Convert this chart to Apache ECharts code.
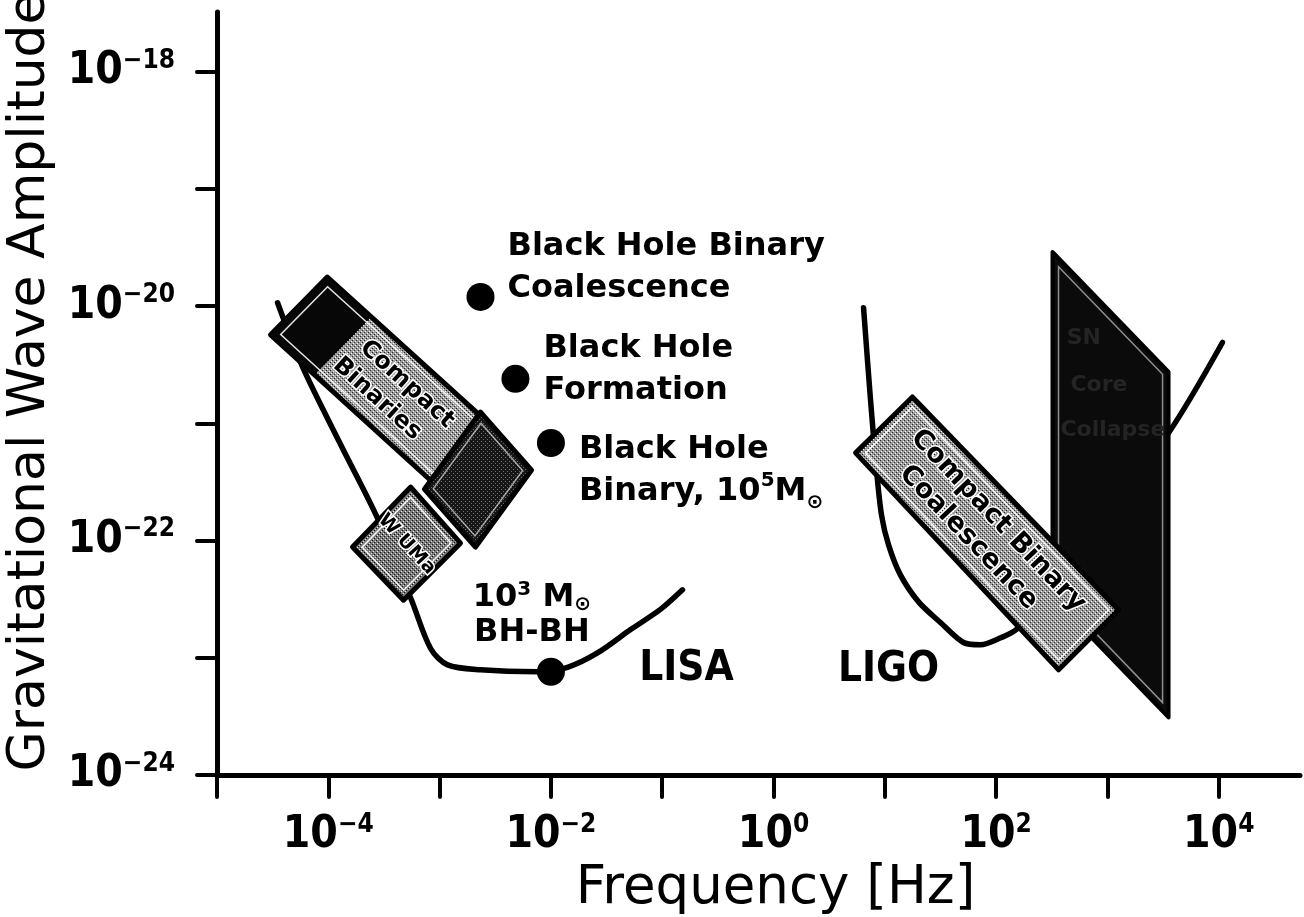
<!DOCTYPE html>
<html>
<head>
<meta charset="utf-8">
<script src="https://cdn.jsdelivr.net/npm/echarts@6/dist/echarts.min.js"></script>
<style>
html,body{margin:0;padding:0;background:#fff;}
#chart{width:1304px;height:917px;}
</style>
</head>
<body>
<div id="chart"></div>
<script>
// ---------------- data ----------------
const freqTicks = [1e-5, 1e-4, 1e-3, 1e-2, 1e-1, 1, 1e1, 1e2, 1e3, 1e4];
const freqTickLabels = [1e-4, 1e-2, 1, 1e2, 1e4];
const freqTickLabelExp = ['\u22124', '\u22122', '0', '2', '4'];
const ampTicks = [1e-24, 1e-23, 1e-22, 1e-21, 1e-20, 1e-19, 1e-18];
const ampTickLabels = [1e-24, 1e-22, 1e-20, 1e-18];
const ampTickLabelExp = ['\u221224', '\u221222', '\u221220', '\u221218'];

// LISA sensitivity curve
const lisaFreq = [3.5e-5, 5.9e-5, 1.29e-4, 2.77e-4, 5.6e-4, 8.3e-4, 1.18e-3, 2.33e-3, 7.6e-3, 1.41e-2, 2.62e-2, 5.2e-2, 9.7e-2, 0.152];
const lisaAmp  = [1.07e-20, 3.0e-21, 6.6e-22, 1.55e-22, 3.1e-23, 1.2e-23, 8.7e-24, 7.9e-24, 7.6e-24, 8.3e-24, 1.1e-23, 1.74e-23, 2.6e-23, 3.8e-23];

// LIGO sensitivity curve
const ligoFreq = [6.44, 7.44, 8.42, 9.34, 10.8, 13.8, 20.1, 31.6, 50.9, 72.4, 110, 156, 379, 1067, 3540, 10800];
const ligoAmp  = [9.7e-21, 1.58e-21, 4.0e-22, 1.65e-22, 9.2e-23, 5.1e-23, 3.0e-23, 2.0e-23, 1.35e-23, 1.29e-23, 1.48e-23, 1.78e-23, 5.1e-23, 2.0e-22, 8.3e-22, 4.9e-21];

// curve labels
const curveNames = ['LISA', 'LIGO'];

// point sources
const sourceNames = ['Black Hole Binary Coalescence', 'Black Hole Formation', 'Black Hole Binary, 10^5 Msun', '10^3 Msun BH-BH'];
const sourceFreq = [2.33e-3, 4.8e-3, 1.0e-2, 1.0e-2];
const sourceAmp  = [1.2e-20, 2.4e-21, 6.8e-22, 7.6e-24];
const sourceLabels = [
  '{t|Black Hole Binary}\n{t|Coalescence}',
  '{t|Black Hole}\n{t|Formation}',
  '{t|Black Hole}\n{t|Binary, 10}{s|5}{t|M}{o|\u2299}',
  '{u|10}{s|3}{u| M}{o|\u2299}\n{u|BH-BH}'
];

// source regions (corners: start-lower, start-upper, end-upper, end-lower)
const regionNames = ['SN Core Collapse', 'Compact Binary Coalescence', 'Compact Binaries', 'Compact Binaries (2)', 'W UMa'];
const regionLines = [['SN', 'Core', 'Collapse'], ['Compact Binary', 'Coalescence'], ['Compact', 'Binaries'], [], ['W UMa']];
const regionFreq = [
  [321, 3540, 3540, 321],
  [5.46, 17.7, 1259, 364],
  [3.03e-5, 9.8e-5, 2.86e-3, 8.8e-4],
  [7.3e-4, 2.33e-3, 6.7e-3, 2.10e-3],
  [1.65e-4, 5.5e-4, 1.54e-3, 4.74e-4]
];
const regionAmp = [
  [2.9e-20, 2.75e-21, 3.1e-24, 3.3e-23],
  [5.6e-22, 1.68e-21, 2.56e-23, 7.9e-24],
  [5.7e-21, 1.77e-20, 9.7e-22, 3.1e-22],
  [2.75e-22, 1.25e-21, 4.0e-22, 8.8e-23],
  [8.8e-23, 2.86e-22, 9.5e-23, 3.1e-23]
];

// ---------------- styling ----------------
const FONT_TICK = "'Liberation Sans Narrow','DejaVu Sans Condensed','Liberation Sans',sans-serif";
const FONT_TEXT = "'DejaVu Sans',sans-serif";

// anchor of the curve name labels (data coords) - layout only
const curveLabelAnchor = [[0.165, 8.0e-24], [10.8, 7.9e-24]];

const regionStyles = [
  {fill: 'black', border: 4, inset: 6, inner: 'rgba(200,200,200,0.7)', horizontal: true,
   pos: [[0.157, 0.27], [0.246, 0.40], [0.336, 0.52]], size: 22, textFill: '#242424', textStroke: null},
  {fill: 'light', border: 5, inset: 7, inner: 'rgba(255,255,255,0.9)',
   pos: [[0.5, 0.70], [0.47, 0.30]], size: 27, textFill: '#000', textStroke: '#fff'},
  {fill: 'light', border: 5, inset: 7, inner: 'rgba(255,255,255,0.9)', darkTo: 0.27,
   pos: [[0.6, 0.68], [0.55, 0.30]], size: 24, textFill: '#000', textStroke: '#fff'},
  {fill: 'dark', border: 5, inset: 7, inner: 'rgba(255,255,255,0.6)', pos: [], size: 20},
  {fill: 'mid', border: 5, inset: 7, inner: 'rgba(255,255,255,0.9)',
   pos: [[0.5, 0.5]], size: 19, textFill: '#000', textStroke: '#fff'}
];

function makePattern(bg, dots) {
  const c = document.createElement('canvas');
  c.width = 4; c.height = 4;
  const g = c.getContext('2d');
  g.fillStyle = bg; g.fillRect(0, 0, 4, 4);
  dots.forEach(function (d) { g.fillStyle = d[2]; g.fillRect(d[0], d[1], 1, 1); });
  return {image: c, repeat: 'repeat'};
}
const patterns = {
  light: makePattern('#9c9c9c', [[0, 0, '#222'], [2, 2, '#222'], [1, 3, '#fff'], [3, 1, '#fff']]),
  mid: makePattern('#7a7a7a', [[0, 0, '#111'], [2, 2, '#111'], [1, 3, '#eee'], [3, 1, '#ddd']]),
  dark: makePattern('#161616', [[1, 1, '#777'], [3, 3, '#666']]),
  black: '#0b0b0b'
};

function normalIn(a, b, cx, cy) {
  let dx = b[0] - a[0], dy = b[1] - a[1];
  const L = Math.hypot(dx, dy) || 1; dx /= L; dy /= L;
  let nx = -dy, ny = dx;
  const mx = (a[0] + b[0]) / 2, my = (a[1] + b[1]) / 2;
  if ((cx - mx) * nx + (cy - my) * ny < 0) { nx = -nx; ny = -ny; }
  return [nx, ny];
}
function insetPoly(pts, d) {
  const n = pts.length;
  let cx = 0, cy = 0;
  pts.forEach(function (p) { cx += p[0] / n; cy += p[1] / n; });
  return pts.map(function (p, i) {
    const a = pts[(i - 1 + n) % n], b = pts[(i + 1) % n];
    const n1 = normalIn(a, p, cx, cy), n2 = normalIn(p, b, cx, cy);
    const k = 1 + n1[0] * n2[0] + n1[1] * n2[1];
    return [p[0] + d * (n1[0] + n2[0]) / k, p[1] + d * (n1[1] + n2[1]) / k];
  });
}

function tickFormatter(values, exps) {
  return function (v) {
    const lv = Math.log10(v);
    let idx = -1;
    values.forEach(function (t, i) { if (Math.abs(Math.log10(t) - lv) < 1e-6) idx = i; });
    if (idx < 0) return '';
    return '{b|10}{s|' + exps[idx] + '}';
  };
}
const tickRich = {
  b: {fontFamily: FONT_TICK, fontWeight: 'bold', fontSize: 44, lineHeight: 48, color: '#000'},
  s: {fontFamily: FONT_TICK, fontWeight: 'bold', fontSize: 26, lineHeight: 28, verticalAlign: 'top', color: '#000'}
};

const annRich = {
  t: {fontFamily: FONT_TEXT, fontWeight: 'bold', fontSize: 32, lineHeight: 42, color: '#000'},
  u: {fontFamily: FONT_TEXT, fontWeight: 'bold', fontSize: 32, lineHeight: 35, color: '#000'},
  s: {fontFamily: FONT_TEXT, fontWeight: 'bold', fontSize: 20, lineHeight: 22, verticalAlign: 'top', color: '#000'},
  o: {fontFamily: FONT_TEXT, fontWeight: 'bold', fontSize: 20, lineHeight: 24, verticalAlign: 'bottom', color: '#000'}
};
const sourceLabelPlacement = [
  {position: 'right', distance: 13, offset: [0, -29]},
  {position: 'right', distance: 14, offset: [0, -9]},
  {position: 'right', distance: 14, offset: [0, 28]},
  {position: 'top', distance: 8, offset: [-19, 0], align: 'center'}
];

function curveMark(i) {
  return {
    silent: true, symbol: 'circle', symbolSize: 0, animation: false,
    label: {show: true, position: 'inside', color: '#000', fontFamily: FONT_TICK, fontWeight: 'bold', fontSize: 42,
      formatter: curveNames[i]},
    data: [{coord: curveLabelAnchor[i], value: curveNames[i]}]
  };
}

const chart = echarts.init(document.getElementById('chart'), null, {renderer: 'canvas'});

const option = {
  backgroundColor: '#fff',
  animation: false,
  grid: {left: 217, right: 4, top: 12, bottom: 142, containLabel: false, outerBoundsMode: 'none'},
  xAxis: {
    type: 'log', logBase: 10, min: 1e-5, max: Math.pow(10, 4.73),
    axisLine: {show: true, onZero: false, lineStyle: {color: '#000', width: 5, cap: 'round'}},
    axisTick: {show: true, customValues: freqTicks, length: 22, lineStyle: {color: '#000', width: 4, cap: 'round'}},
    minorTick: {show: false},
    splitLine: {show: false},
    axisLabel: {show: true, customValues: freqTickLabels, margin: 37, formatter: tickFormatter(freqTickLabels, freqTickLabelExp), rich: tickRich},
    name: 'Frequency [Hz]', nameLocation: 'middle', nameGap: 62,
    nameTextStyle: {fontFamily: FONT_TEXT, fontSize: 53, color: '#000', padding: [0, 0, 0, 34]}
  },
  yAxis: {
    type: 'log', logBase: 10, min: 1e-24, max: Math.pow(10, -17.49),
    axisLine: {show: true, onZero: false, lineStyle: {color: '#000', width: 5, cap: 'round'}},
    axisTick: {show: true, customValues: ampTicks, length: 20, lineStyle: {color: '#000', width: 4, cap: 'round'}},
    minorTick: {show: false},
    splitLine: {show: false},
    axisLabel: {show: true, customValues: ampTickLabels, margin: 42, formatter: tickFormatter(ampTickLabels, ampTickLabelExp), rich: tickRich},
    name: 'Gravitational Wave Amplitude', nameLocation: 'middle', nameGap: 160, nameRotate: 90,
    nameTextStyle: {fontFamily: FONT_TEXT, fontSize: 52, color: '#000', padding: [0, 0, 0, 23]}
  },
  series: [
    {
      type: 'line', name: 'LISA', z: 2, silent: true,
      data: lisaFreq.map(function (f, i) { return [f, lisaAmp[i]]; }),
      symbol: 'none', smooth: 0.3,
      lineStyle: {color: '#000', width: 5.5, cap: 'round', join: 'round'},
      markPoint: curveMark(0)
    },
    {
      type: 'line', name: 'LIGO', z: 2, silent: true,
      data: ligoFreq.map(function (f, i) { return [f, ligoAmp[i]]; }),
      symbol: 'none', smooth: 0.3,
      lineStyle: {color: '#000', width: 5.5, cap: 'round', join: 'round'},
      markPoint: curveMark(1)
    },
    {
      type: 'custom', name: 'Source regions', z: 3, silent: true,
      coordinateSystem: 'cartesian2d',
      dimensions: ['f', 'h', 'idx'],
      encode: {x: 0, y: 1},
      data: regionFreq.map(function (f, i) { return [f[0], regionAmp[i][0], i]; }),
      renderItem: function (params, api) {
        const i = api.value(2);
        const st = regionStyles[i];
        const pts = regionFreq[i].map(function (f, k) { return api.coord([f, regionAmp[i][k]]); });
        const lerp = function (a, b, s) { return [a[0] + (b[0] - a[0]) * s, a[1] + (b[1] - a[1]) * s]; };
        const P = function (s, t) { return lerp(lerp(pts[0], pts[3], s), lerp(pts[1], pts[2], s), t); };
        const children = [];
        children.push({type: 'polygon', shape: {points: pts},
          style: {fill: patterns[st.fill], stroke: '#000', lineWidth: st.border, lineJoin: 'round'}});
        if (st.darkTo) {
          children.push({type: 'polygon', shape: {points: [P(0, 0), P(0, 1), P(st.darkTo, 1), P(st.darkTo, 0)]},
            style: {fill: '#070707'}});
        }
        children.push({type: 'polygon', shape: {points: insetPoly(pts, st.inset)},
          style: {fill: 'none', stroke: st.inner, lineWidth: 1.5}});
        const a0 = P(0, 0.5), a1 = P(1, 0.5);
        const ang = st.horizontal ? 0 : -Math.atan2(a1[1] - a0[1], a1[0] - a0[0]);
        (regionLines[i] || []).forEach(function (txt, j) {
          const p = P(st.pos[j][0], st.pos[j][1]);
          const style = {text: txt, x: 0, y: 0, align: 'center', verticalAlign: 'middle',
            fill: st.textFill, fontFamily: FONT_TEXT, fontWeight: 'bold', fontSize: st.size};
          if (st.textStroke) { style.stroke = st.textStroke; style.lineWidth = 3; }
          children.push({type: 'text', x: p[0], y: p[1], rotation: ang, style: style});
        });
        return {type: 'group', children: children};
      }
    },
    {
      type: 'scatter', name: 'Sources', z: 5, silent: true,
      symbol: 'circle', symbolSize: 28,
      itemStyle: {color: '#000', opacity: 1},
      data: sourceFreq.map(function (f, i) {
        return {name: sourceNames[i], value: [f, sourceAmp[i]], label: sourceLabelPlacement[i]};
      }),
      label: {show: true, color: '#000', opacity: 1, rich: annRich,
        formatter: function (p) { return sourceLabels[p.dataIndex]; }}
    }
  ]
};
chart.setOption(option);
</script>
</body>
</html>
